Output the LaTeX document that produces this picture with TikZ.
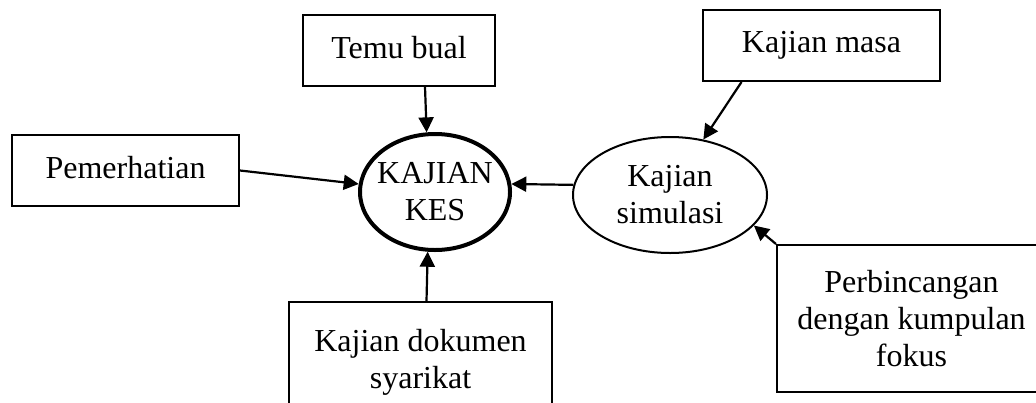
\documentclass[tikz,border=0pt]{standalone}
\usepackage{fontspec}
\setmainfont{Liberation Serif}
\usetikzlibrary{positioning,arrows.meta,shapes.geometric}

\begin{document}
\begin{tikzpicture}[
			x=0.5pt, y=-0.5pt,
			font=\fontsize{16pt}{18.5pt}\selectfont,
			% Define styles for the shapes
			sourcebox/.style={rectangle, draw, line width=1pt, align=center, minimum height=35.5pt, inner sep=0pt},
			shortbox/.style={sourcebox, text depth=3.5pt},
			mainoval/.style={ellipse, draw, line width=2pt, align=center, minimum width=75pt, minimum height=58pt, inner xsep=-3pt, inner ysep=0pt},
			suboval/.style={ellipse, draw, line width=1pt, align=center, minimum width=97pt, minimum height=58pt, inner sep=0pt},
			arrow/.style={-{Triangle[length=7.5pt,width=7.5pt]}, line width=1.1pt, color=black}
			]
			\useasboundingbox (0,0) rectangle (1036,402);
			\clip (0,0) rectangle (1036,402);
			
			% --- Nodes ---
			\node (kes) [mainoval] at (435,192) {KAJIAN\\KES};
			
			\node (sim) [suboval] at (670,195) {Kajian\\simulasi};
			
			\node (temu) [shortbox, minimum width=96pt] at (399,50.5) {Temu bual};
			
			\node (pem) [shortbox, minimum width=113.5pt] at (125.5,170.5) {Pemerhatian};
			
			\node (masa) [shortbox, minimum width=118.5pt] at (821.5,45.5) {Kajian masa};
			
			% Boxes running past the page edge
			\node (dok) [sourcebox, minimum width=131.5pt, minimum height=60pt] at (420.5,362) {Kajian dokumen\\syarikat};
			
			\node (perb) [sourcebox, minimum width=160pt, minimum height=73.5pt,
				label={[align=center, xshift=-12.75pt]center:Perbincangan\\dengan kumpulan\\fokus}] at (937,318.5) {};
			
			% --- Arrows ---
			\draw[arrow] ([xshift=13pt]temu.south) -- (kes.98);
			\draw[arrow] (pem.east) -- (kes.174);
			\draw[arrow] ([xshift=3pt]dok.north) -- (kes.263);
			\draw[arrow] (sim.174) -- (kes.6);
			
			% Arrows into the simulation oval
			\draw[arrow] ([xshift=-40pt]masa.south) -- (sim.59);
			\draw[arrow] (perb.north west) -- (sim.340);
			
		\end{tikzpicture}
\end{document}
